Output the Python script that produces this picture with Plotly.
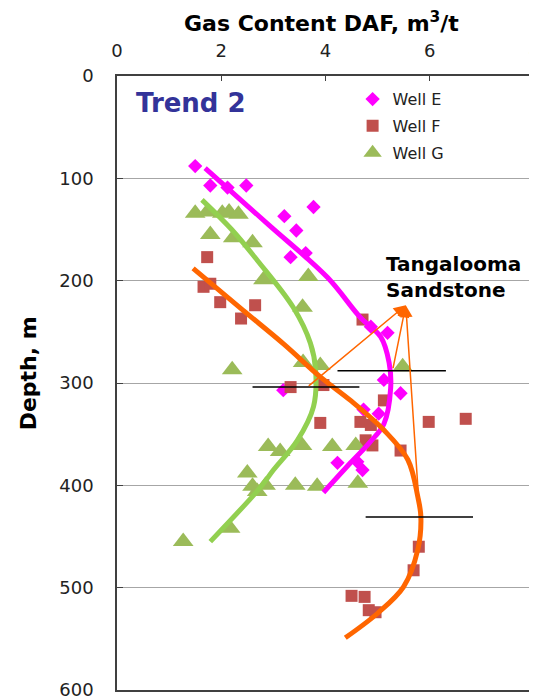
import plotly.graph_objects as go

# measured points, gas content (m3/t) vs depth (m)
well_e_x = [1.50, 1.79, 2.12, 2.48, 3.77, 3.21, 3.44, 3.33, 3.62, 4.87, 5.19, 5.12, 5.44, 3.19, 4.73, 5.02, 4.23, 4.61, 4.71]
well_e_y = [88, 107, 109, 107, 128, 137, 151, 177, 173, 245, 251, 297, 310, 307, 326, 330, 378, 377, 385]

well_f_x = [1.73, 1.66, 1.79, 1.98, 2.65, 2.38, 3.33, 3.96, 4.71, 5.12, 3.90, 4.67, 4.87, 5.98, 6.69, 4.77, 4.90, 5.44, 5.79, 5.69, 4.50, 4.75, 4.83, 4.96]
well_f_y = [177, 206, 203, 221, 224, 237, 304, 302, 238, 317, 339, 338, 341, 338, 335, 356, 361, 366, 460, 483, 508, 509, 522, 524]

well_g_x = [1.50, 1.73, 2.02, 2.15, 2.33, 1.79, 2.23, 2.60, 2.81, 3.67, 3.56, 2.21, 3.57, 3.90, 5.48,
            2.90, 3.13, 3.55, 4.13, 4.58, 2.50, 2.60, 2.85, 2.69, 3.42, 3.84, 4.62, 2.17, 1.27]
well_g_y = [134, 133, 134, 133, 135, 155, 158, 163, 199, 196, 226, 287, 280, 283, 284,
            362, 367, 361, 362, 361, 388, 401, 400, 406, 400, 401, 398, 442, 455]

# hand-drawn trend curves
trend_e_x = [1.69, 2.90, 4.04, 4.67, 5.06, 5.22, 5.25, 5.12, 4.85, 4.48, 3.96]
trend_e_y = [90, 145, 197, 236, 255, 280, 305, 340, 358, 378, 407]
trend_f_x = [1.46, 2.42, 3.20, 3.90, 4.48, 5.12, 5.58, 5.77, 5.83, 5.77, 5.50, 5.00, 4.38]
trend_f_y = [188, 229, 262, 294, 317, 346, 375, 411, 431, 463, 499, 525, 549]
trend_g_x = [1.63, 2.20, 2.69, 3.38, 3.71, 3.81, 3.77, 3.46, 3.00, 2.75, 1.79]
trend_g_y = [121, 150, 180, 226, 261, 287, 323, 356, 385, 402, 455]

# Tangalooma Sandstone markers
seg_x0 = [2.60, 4.23, 4.77]
seg_x1 = [4.65, 6.31, 6.83]
seg_y = [304, 288, 431]
arrow_tail_x = [3.65, 5.29, 5.81]
arrow_tail_y = [304, 287, 431]
arrow_head = (5.54, 224)

FONT = "DejaVu Sans"

fig = go.Figure()

fig.add_trace(go.Scatter(x=well_e_x, y=well_e_y, mode="markers", name="Well E", legendgroup="e",
                         marker=dict(symbol="diamond", size=11, color="#FF00FF")))
fig.add_trace(go.Scatter(x=well_f_x, y=well_f_y, mode="markers", name="Well F", legendgroup="f",
                         marker=dict(symbol="square", size=12, color="#C0504D")))
fig.add_trace(go.Scatter(x=well_g_x, y=well_g_y, mode="markers", name="Well G", legendgroup="g",
                         marker=dict(symbol="triangle-up", size=18, color="#9BBB59")))

for tx, ty, col in [(trend_e_x, trend_e_y, "#FF00FF"), (trend_g_x, trend_g_y, "#92D050"),
                    (trend_f_x, trend_f_y, "#FF6600")]:
    fig.add_trace(go.Scatter(x=tx, y=ty, mode="lines", showlegend=False, hoverinfo="skip",
                             line=dict(color=col, width=5, shape="spline", smoothing=1.0)))

for x0, x1, y in zip(seg_x0, seg_x1, seg_y):
    fig.add_trace(go.Scatter(x=[x0, x1], y=[y, y], mode="lines", showlegend=False,
                             hoverinfo="skip", line=dict(color="black", width=1.5)))

for ax, ay in zip(arrow_tail_x, arrow_tail_y):
    fig.add_annotation(x=arrow_head[0], y=arrow_head[1], ax=ax, ay=ay, xref="x", yref="y",
                       axref="x", ayref="y", text="", showarrow=True, arrowhead=2,
                       arrowsize=1.6, arrowwidth=1.5, arrowcolor="#FF6600")

fig.add_annotation(x=0.33, y=26, xref="x", yref="y", text="<b>Trend 2</b>", showarrow=False,
                   xanchor="left", font=dict(family=FONT, size=26, color="#333399"))
fig.add_annotation(x=5.12, y=196, xref="x", yref="y", text="<b>Tangalooma<br>Sandstone</b>",
                   showarrow=False, xanchor="left", align="left",
                   font=dict(family=FONT, size=20, color="black"))
fig.add_annotation(x=0.49, y=1.088, xref="paper", yref="paper", text="<b>Gas Content DAF, m<sup>3</sup>/t</b>",
                   showarrow=False, xanchor="center", yanchor="middle",
                   font=dict(family=FONT, size=22, color="black"))
fig.add_annotation(x=-0.213, y=0.516, xref="paper", yref="paper", text="<b>Depth, m</b>",
                   showarrow=False, textangle=-90, xanchor="center", yanchor="middle",
                   font=dict(family=FONT, size=22, color="black"))

fig.update_xaxes(range=[0, 8], side="top", dtick=2, ticks="inside", ticklen=5, tickcolor="#404040",
                 showline=True, mirror=True, linecolor="#404040", linewidth=1.5, showgrid=False,
                 zeroline=False, automargin=False, ticklabelstandoff=10, ticklabeloverflow="allow",
                 tickfont=dict(family=FONT, size=18, color="#222"))
fig.update_yaxes(range=[600, 0], dtick=100, ticks="inside", ticklen=6, tickcolor="#404040",
                 showline=True, mirror=True, linecolor="#404040", linewidth=1.5, showgrid=True,
                 gridcolor="#a6a6a6", gridwidth=1, zeroline=False, automargin=False,
                 ticklabelstandoff=18, ticklabeloverflow="allow",
                 tickfont=dict(family=FONT, size=18, color="#222"))

# the page body adds an 8px offset, so the figure is 8px smaller than the window
fig.update_layout(width=529, height=691, margin=dict(l=109, r=3, t=68, b=9, autoexpand=False),
                  plot_bgcolor="white", paper_bgcolor="white",
                  legend=dict(x=0.565, y=0.99, xanchor="left", yanchor="top", tracegroupgap=3,
                              font=dict(family=FONT, size=16, color="#222"), bgcolor="rgba(0,0,0,0)"),
                  showlegend=True)

fig.write_html("out.html")
